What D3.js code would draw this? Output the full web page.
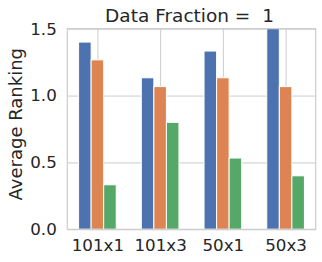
<!DOCTYPE html>
<html>
<head>
<meta charset="utf-8">
<script src="https://cdn.jsdelivr.net/npm/d3@7"></script>
<style>
  body { margin: 0; background: #fff; }
  text { font-family: "DejaVu Sans", sans-serif; fill: #262626; white-space: pre; }
</style>
</head>
<body>
<script>
const categories = ['101x1', '101x3', '50x1', '50x3'];
const seriesA = [1.4, 1.133, 1.333, 1.533];
const seriesB = [1.267, 1.067, 1.133, 1.067];
const seriesC = [0.333, 0.8, 0.533, 0.4];
const yTicks = [0, 0.5, 1.0, 1.5];
const colors = ['#4c72b0', '#dd8452', '#55a868'];

const width = 322, height = 262;
const margin = { top: 28.7, right: 6.3, bottom: 32.7, left: 67.3 };

const series = [seriesA, seriesB, seriesC];

const x = d3.scaleLinear()
    .domain([-0.48, categories.length - 1 + 0.48])
    .range([margin.left, width - margin.right]);

const y = d3.scaleLinear()
    .domain([0, 1.5])
    .range([height - margin.bottom, margin.top]);

const svg = d3.create('svg')
    .attr('width', width)
    .attr('height', height);

svg.append('defs').append('clipPath')
    .attr('id', 'plot-clip')
    .append('rect')
    .attr('x', margin.left)
    .attr('y', margin.top)
    .attr('width', width - margin.left - margin.right)
    .attr('height', height - margin.top - margin.bottom);

// grid + tick labels
const x_axis = d3.axisBottom(x)
    .tickValues(d3.range(categories.length))
    .tickFormat(i => categories[i])
    .tickSize(-(height - margin.top - margin.bottom))
    .tickPadding(10);

const y_axis = d3.axisLeft(y)
    .tickValues(yTicks)
    .tickFormat(d3.format('.1f'))
    .tickSize(-(width - margin.left - margin.right))
    .tickPadding(10.5);

const gx = svg.append('g')
    .attr('transform', `translate(0,${height - margin.bottom})`)
    .call(x_axis);

const gy = svg.append('g')
    .attr('transform', `translate(${margin.left},0)`)
    .call(y_axis);

[gx, gy].forEach(g => {
    g.select('.domain').remove();
    g.selectAll('.tick line').attr('stroke', '#cccccc').attr('stroke-width', 1);
    g.selectAll('.tick text').attr('font-size', 16.7).attr('fill', '#262626');
});

// bars, 3 per category
const barW = 0.2;
const bars = svg.append('g').attr('clip-path', 'url(#plot-clip)');
series.forEach((vals, s) => {
    bars.selectAll(null)
        .data(vals)
        .join('rect')
        .attr('fill', colors[s])
        .attr('stroke', '#ffffff')
        .attr('stroke-width', 1)
        .attr('x', (d, i) => x(i + (s - 1) * barW - barW / 2))
        .attr('y', d => y(d))
        .attr('width', x(barW) - x(0))
        .attr('height', d => y(0) - y(d));
});

// frame
svg.append('rect')
    .attr('x', margin.left)
    .attr('y', margin.top)
    .attr('width', width - margin.left - margin.right)
    .attr('height', height - margin.top - margin.bottom)
    .attr('fill', 'none')
    .attr('stroke', '#cccccc')
    .attr('stroke-width', 1.2);

svg.append('text')
    .attr('x', 189.5)
    .attr('y', 22)
    .attr('text-anchor', 'middle')
    .attr('font-size', 18.5)
    .text('Data Fraction =  1');

svg.append('text')
    .attr('transform', 'translate(21.5,124.2) rotate(-90)')
    .attr('text-anchor', 'middle')
    .attr('font-size', 18)
    .text('Average Ranking');

document.querySelector('body').appendChild(svg.node());
</script>
</body>
</html>
